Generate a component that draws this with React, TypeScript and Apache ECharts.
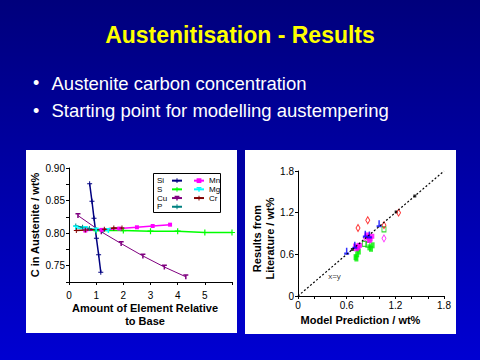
import React, { useEffect, useRef } from "react";
import * as echarts from "echarts";

// ---- Left chart: C in austenite vs amount of element relative to base ----
const leftXTicks = [0, 1, 2, 3, 4, 5, 6];
const leftYTicks = [0.75, 0.8, 0.85, 0.9];
const siData = [[0.76, 0.876], [0.845, 0.849], [0.92, 0.823], [1.01, 0.792], [1.09, 0.767], [1.17, 0.74]];
const sData = [[1.0, 0.804], [2.0, 0.804], [3.0, 0.803], [4.0, 0.803], [5.0, 0.801], [6.0, 0.801]];
const cuData = [[0.33, 0.827], [1.19, 0.802], [1.92, 0.784], [2.72, 0.765], [3.51, 0.748], [4.3, 0.733]];
const pData = [[0.25, 0.811], [0.5, 0.809], [0.75, 0.807], [1.0, 0.805], [1.25, 0.804]];
const mnData = [[0.6, 0.804], [1.2, 0.805], [1.85, 0.807], [2.5, 0.809], [3.08, 0.811], [3.72, 0.813]];
const mgData = [[0.25, 0.808], [0.6, 0.807], [1.0, 0.805], [1.45, 0.804]];
const crData = [[0.27, 0.804], [0.6, 0.805], [1.3, 0.806], [1.65, 0.808], [1.95, 0.808]];

// ---- Right chart: results from literature vs model prediction ----
const rightTicks = [0, 0.6, 1.2, 1.8];
const diagonal = [[0, 0], [1.8, 1.8]];
const redOpen = [[0.74, 0.98], [0.86, 1.09], [1.06, 1.02], [1.24, 1.2]];
const magentaFilled = [[0.71, 0.72], [0.74, 0.7], [0.76, 0.73], [0.72, 0.68], [0.86, 0.85], [0.89, 0.82], [0.91, 0.86], [0.88, 0.8], [0.85, 0.88]];
const magentaOpen = [[0.83, 0.84], [1.06, 0.83]];
const greenFilled = [[0.71, 0.56], [0.73, 0.6], [0.75, 0.64], [0.74, 0.68], [0.72, 0.54], [0.88, 0.7], [0.9, 0.68], [0.92, 0.73]];
const greenOpen = [[0.82, 0.75], [0.86, 0.74], [1.06, 0.96]];
const blueMarks = [[0.6, 0.645], [0.7, 0.73], [0.83, 0.89], [0.88, 0.88], [1.0, 1.04]];
const blackOnLine = [[0.67, 0.67], [1.21, 1.21], [1.44, 1.44]];
const xyLabelPos = [[0.45, 0.285]];

const FONT = "'Liberation Sans', Arial, sans-serif";
const PLUS = "path://M4,0H6V4H10V6H6V10H4V6H0V4H4Z";
const TEE = "path://M0,0H10V3H6.5V10H3.5V3H0Z";
const BOTTOM_T = "path://M3.5,0H6.5V7H10V10H0V7H3.5Z";

function lineSeries(name: string, data: number[][], color: string, symbol: string, size: number, width = 1.5) {
  return {
    name,
    type: "line",
    xAxisIndex: 0,
    yAxisIndex: 0,
    data,
    symbol,
    symbolSize: size,
    showSymbol: true,
    lineStyle: { color, width },
    itemStyle: { color },
  };
}

function scatter(data: number[][], symbol: string, size: any, color: string, open: boolean) {
  return {
    type: "scatter",
    xAxisIndex: 1,
    yAxisIndex: 1,
    data,
    symbol,
    symbolSize: size,
    itemStyle: open
      ? { color: "rgba(0,0,0,0)", borderColor: color, borderWidth: 1 }
      : { color },
  };
}

export default function App() {
  const ref = useRef<HTMLDivElement>(null);
  useEffect(() => {
    if (!ref.current) return;
    const chart = echarts.init(ref.current, undefined, { renderer: "svg" });
    const axisLine = { show: true, lineStyle: { color: "#000", width: 1 } };
    const axisTick = { show: true, length: 3, lineStyle: { color: "#000" } };
    const labelStyle = { color: "#000", fontSize: 10, fontFamily: FONT };
    const nameStyle = { color: "#000", fontSize: 11, fontWeight: "bold", fontFamily: FONT, lineHeight: 13 };

    const option: any = {
      animation: false,
      backgroundColor: {
        type: "linear", x: 0, y: 0, x2: 0, y2: 1,
        colorStops: [{ offset: 0, color: "#00007c" }, { offset: 1, color: "#0000d2" }],
      },
      graphic: [
        { type: "rect", z: -1, silent: true, shape: { x: 26, y: 150, width: 211, height: 183 }, style: { fill: "#fff" } },
        { type: "rect", z: -1, silent: true, shape: { x: 245, y: 150, width: 211, height: 184 }, style: { fill: "#fff" } },
        { type: "rect", z: 3, silent: true, shape: { x: 153.5, y: 173.5, width: 67, height: 39 }, style: { fill: "#fff", stroke: "#000", lineWidth: 1 } },
        {
          type: "text", x: 240, y: 35,
          style: { text: "Austenitisation - Results", fill: "#ffff00", font: `bold 23px ${FONT}`, textAlign: "center", textVerticalAlign: "middle" },
        },
        { type: "text", x: 33, y: 83, style: { text: "•", fill: "#fff", font: `18px ${FONT}`, textAlign: "left", textVerticalAlign: "middle" } },
        { type: "text", x: 51.5, y: 83, style: { text: "Austenite carbon concentration", fill: "#fff", font: `18.5px ${FONT}`, textAlign: "left", textVerticalAlign: "middle" } },
        { type: "text", x: 33, y: 110.5, style: { text: "•", fill: "#fff", font: `18px ${FONT}`, textAlign: "left", textVerticalAlign: "middle" } },
        { type: "text", x: 51.5, y: 110.5, style: { text: "Starting point for modelling austempering", fill: "#fff", font: `18.5px ${FONT}`, textAlign: "left", textVerticalAlign: "middle" } },
      ],
      legend: [
        {
          data: ["Si", "S", "Cu", "P"], orient: "vertical", left: 157, top: 176.3, align: "right",
          itemWidth: 10, itemHeight: 6, itemGap: 0, padding: 0, selectedMode: false, z: 4,
          formatter: "{a|{name}}",
          textStyle: {
            fontSize: 8, fontFamily: FONT, color: "#000", lineHeight: 8.7,
            rich: { a: { width: 10, align: "left", fontSize: 8, fontFamily: FONT, color: "#000", lineHeight: 8.7 } },
          },
        },
        {
          data: ["Mn", "Mg", "Cr"], orient: "vertical", left: 193, top: 176.3, align: "left",
          itemWidth: 10, itemHeight: 6, itemGap: 0, padding: 0, selectedMode: false, z: 4,
          textStyle: { fontSize: 8, fontFamily: FONT, color: "#000", lineHeight: 8.7 },
        },
      ],
      grid: [
        { left: 69, top: 168, width: 163, height: 114 },
        { left: 298, top: 171, width: 146, height: 125 },
      ],
      xAxis: [
        {
          type: "value", gridIndex: 0, min: leftXTicks[0], max: leftXTicks[leftXTicks.length - 1], interval: 1,
          axisLine, axisTick, splitLine: { show: false },
          axisLabel: { ...labelStyle, margin: 8, formatter: (v: number) => (v === 6 ? "" : String(v)) },
          name: "Amount of Element Relative\nto Base", nameLocation: "middle", nameGap: 19,
          nameTextStyle: { ...nameStyle, padding: [0, 11, 0, 0] },
        },
        {
          type: "value", gridIndex: 1, min: 0, max: rightTicks[rightTicks.length - 1], interval: 0.2,
          axisLine, axisTick, splitLine: { show: false },
          axisLabel: {
            ...labelStyle, margin: 4,
            formatter: (v: number) => {
              const k = Math.round(v * 10);
              return k % 6 === 0 ? (k === 0 ? "0" : (k / 10).toFixed(1)) : "";
            },
          },
          name: "Model Prediction / wt%", nameLocation: "middle", nameGap: 17,
          nameTextStyle: { ...nameStyle, padding: [0, 21, 0, 0] },
        },
      ],
      yAxis: [
        {
          type: "value", gridIndex: 0, min: 0.725, max: leftYTicks[leftYTicks.length - 1], interval: 0.025,
          axisLine, axisTick, splitLine: { show: false },
          axisLabel: {
            ...labelStyle, margin: 4,
            formatter: (v: number) => (Math.round(v * 1000) % 50 === 0 ? v.toFixed(2) : ""),
          },
          name: "C in Austenite / wt%", nameLocation: "middle", nameGap: 22, nameTextStyle: { ...nameStyle },
        },
        {
          type: "value", gridIndex: 1, min: 0, max: 1.8, interval: 0.6,
          axisLine, axisTick, splitLine: { show: false },
          axisLabel: { ...labelStyle, margin: 4, formatter: (v: number) => (v === 0 ? "0" : v.toFixed(1)) },
          name: "Results from\nLiterature / wt%", nameLocation: "middle", nameGap: 16,
          nameTextStyle: { ...nameStyle, padding: [0, 10, 0, 0] },
        },
      ],
      series: [
        lineSeries("Si", siData, "#000080", PLUS, 5, 1.5),
        lineSeries("S", sData, "#00ff00", PLUS, 6, 1.5),
        lineSeries("Cu", cuData, "#800080", TEE, 5, 1),
        lineSeries("P", pData, "#008080", PLUS, 5, 1.5),
        lineSeries("Mn", mnData, "#ff00ff", "rect", 4, 1.5),
        lineSeries("Mg", mgData, "#00ffff", TEE, 5, 1.5),
        lineSeries("Cr", crData, "#800000", PLUS, 5, 1.5),
        {
          type: "line", xAxisIndex: 1, yAxisIndex: 1, data: diagonal, symbol: "none",
          lineStyle: { color: "#000", width: 1.2, type: [2, 2] }, silent: true,
        },
        scatter(blackOnLine, "rect", 3, "#000", false),
        scatter(greenFilled, "rect", [4, 6], "#00ee00", false),
        scatter(greenOpen, "rect", [4, 5], "#00cc00", true),
        scatter(magentaFilled, "rect", 5, "#ff00ff", false),
        scatter(magentaOpen, "diamond", [4, 7], "#ff00ff", true),
        scatter(redOpen, "diamond", [4, 7], "#ff0000", true),
        scatter(blueMarks, BOTTOM_T, [5, 7], "#0000ff", false),
        {
          type: "scatter", xAxisIndex: 1, yAxisIndex: 1, data: xyLabelPos, symbolSize: 0,
          label: { show: true, position: "inside", formatter: "x=y", color: "#000", fontSize: 8, fontFamily: FONT },
        },
      ],
    };
    chart.setOption(option);
    return () => chart.dispose();
  }, []);
  return <div ref={ref} style={{ position: "fixed", left: 0, top: 0, width: 480, height: 360 }} />;
}
